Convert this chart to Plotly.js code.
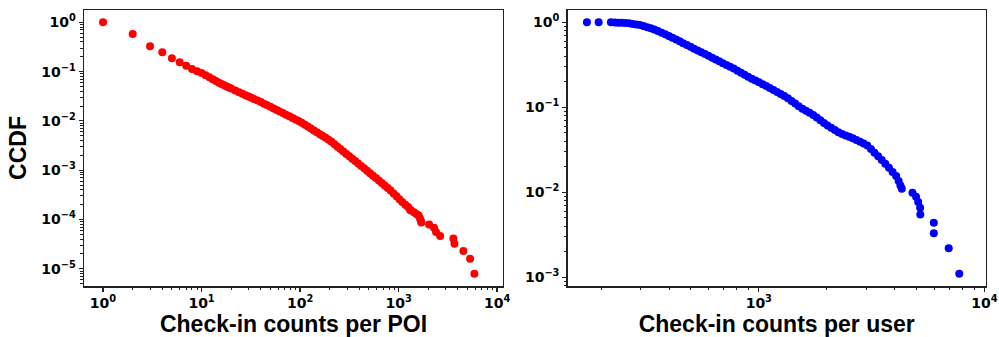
<!DOCTYPE html>
<html>
<head>
<meta charset="utf-8">
<script src="https://cdn.plot.ly/plotly-3.0.1.min.js"></script>
<style>
  html, body { margin: 0; padding: 0; background: #ffffff; }
  #chart { width: 999px; height: 337px; }
</style>
</head>
<body>
<div id="chart"></div>
<script>
// ---- Data: check-in counts per POI (CCDF) ----
const poiCounts = [1, 2, 3, 4, 5, 6, 7, 8, 9, 10, 11, 12, 13, 14, 15, 16, 17, 18, 19, 20,
  22, 24, 26, 28, 30, 32, 34, 37, 40, 43, 46, 50, 54, 58, 62, 67, 72, 78, 84, 90, 97,
  104, 112, 120, 129, 138, 148, 159, 170, 182, 195, 209, 224, 240, 257, 275, 295, 316,
  339, 363, 389, 417, 447, 479, 513, 550, 589, 631, 676, 724, 776, 831, 890, 953, 1020,
  1090, 1170, 1250, 1310, 1340, 1430, 1530, 1600, 1650, 1680, 1700,
  2040, 2290, 2400, 2640, 3600, 3690, 4550, 5320, 5880];
const poiCCDF = [1.0, 0.58, 0.326, 0.246, 0.186, 0.155, 0.132, 0.113, 0.102, 0.0933, 0.084,
  0.0764, 0.07, 0.0645, 0.0597, 0.056, 0.0529, 0.0501, 0.0476, 0.0454,
  0.0415, 0.0382, 0.0355, 0.0332, 0.0312, 0.0295, 0.0279, 0.0259, 0.0241, 0.0224, 0.021,
  0.0193, 0.0178, 0.0166, 0.0155, 0.0144, 0.0134, 0.0124, 0.0115, 0.0107, 0.00994,
  0.00918, 0.00836, 0.00766, 0.00699, 0.00642, 0.00588, 0.00537, 0.00494, 0.00453, 0.00415,
  0.00376, 0.00336, 0.003, 0.00269, 0.0024, 0.00214, 0.00192, 0.00171, 0.00153, 0.00137,
  0.00122, 0.00109, 0.000975, 0.000871, 0.000775, 0.000691, 0.000616, 0.000549, 0.00049,
  0.000436, 0.000388, 0.000338, 0.000295, 0.000257, 0.000225, 0.000198, 0.000178, 0.000156,
  0.000152, 0.00014, 0.000128, 0.00012, 0.000105, 0.000095, 0.000087,
  0.000079, 0.000068, 0.000056, 0.000046, 0.000041, 0.000032, 0.000023, 0.000016, 0.0000079];

// ---- Data: check-in counts per user (CCDF) ----
const userCounts = [173, 195, 221, 230, 238, 247, 256, 266, 276, 286, 297, 308, 320, 332, 344,
  357, 371, 385, 399, 414, 430, 446, 462, 480, 498, 516, 536, 556, 577, 598, 621, 644, 668,
  693, 719, 746, 774, 804, 834, 865, 897, 931, 966, 1002, 1040, 1079, 1119, 1161, 1205, 1250,
  1297, 1346, 1396, 1449, 1503, 1560, 1618, 1679, 1742, 1807, 1875, 1945, 2018, 2094, 2173,
  2254, 2339, 2427, 2518, 2612, 2710, 2812, 2917, 3027, 3141, 3258, 3381, 3508, 3639, 3776,
  3917, 4064, 4169, 4246, 4305,
  4800, 4980, 5090, 5190, 5200, 5970, 5970, 6950, 7740];
const userCCDF = [1.0, 0.999, 0.999, 0.995, 0.991, 0.987, 0.983, 0.972, 0.958, 0.944, 0.93,
  0.904, 0.878, 0.852, 0.825, 0.789, 0.756, 0.723, 0.69, 0.658, 0.627, 0.597, 0.568, 0.541,
  0.515, 0.49, 0.466, 0.444, 0.423, 0.403, 0.384, 0.365, 0.348, 0.331, 0.315, 0.3, 0.286,
  0.27, 0.256, 0.242, 0.229, 0.2175, 0.207, 0.197, 0.187, 0.178, 0.1686, 0.16, 0.1516,
  0.1437, 0.136, 0.128, 0.119, 0.1107, 0.1028, 0.0965, 0.0913, 0.0863, 0.0815, 0.0759,
  0.0705, 0.0655, 0.061, 0.0574, 0.054, 0.0508, 0.0484, 0.0467, 0.045, 0.0434, 0.0413,
  0.0393, 0.0375, 0.0355, 0.0323, 0.0293, 0.0265, 0.024, 0.0217, 0.0195, 0.0174, 0.0156,
  0.0136, 0.012, 0.011,
  0.0099, 0.0089, 0.0077, 0.0066, 0.0055, 0.0044, 0.0033, 0.0022, 0.0011];

// ---- Tick labels ----
const poiXTickVals = [1, 10, 100, 1000, 10000];
const poiXTickText = ['10<sup>0</sup>', '10<sup>1</sup>', '10<sup>2</sup>', '10<sup>3</sup>', '10<sup>4</sup>'];
const poiYTickVals = [1, 0.1, 0.01, 0.001, 0.0001, 0.00001];
const poiYTickText = ['10<sup>0</sup>', '10<sup>−1</sup>', '10<sup>−2</sup>', '10<sup>−3</sup>', '10<sup>−4</sup>', '10<sup>−5</sup>'];
const userXTickVals = [1000, 10000];
const userXTickText = ['10<sup>3</sup>', '10<sup>4</sup>'];
const userYTickVals = [1, 0.1, 0.01, 0.001];
const userYTickText = ['10<sup>0</sup>', '10<sup>−1</sup>', '10<sup>−2</sup>', '10<sup>−3</sup>'];

function minorVals(kFrom, kTo) {
  const v = [];
  for (let k = kFrom; k <= kTo; k++) {
    for (let m = 2; m <= 9; m++) v.push(m * Math.pow(10, k));
  }
  return v;
}

const tickFont = { family: 'DejaVu Sans', size: 14, color: '#000', weight: 'bold' };
const titleFont = { family: 'Liberation Sans, Arial, sans-serif', size: 23, color: '#000', weight: 'bold' };
const lineCol = '#222';

function axisBase(extra) {
  return Object.assign({
    type: 'log',
    showgrid: false,
    zeroline: false,
    showline: true,
    mirror: true,
    linecolor: lineCol,
    linewidth: 1.5,
    ticks: 'outside',
    ticklen: 4,
    tickwidth: 1.2,
    tickcolor: lineCol,
    tickmode: 'array',
    tickfont: tickFont,
    automargin: false
  }, extra);
}

const traces = [
  {
    x: poiCounts, y: poiCCDF, type: 'scatter', mode: 'markers',
    marker: { color: '#ff0000', size: 8 },
    xaxis: 'x', yaxis: 'y', hoverinfo: 'skip'
  },
  {
    x: userCounts, y: userCCDF, type: 'scatter', mode: 'markers',
    marker: { color: '#0000ff', size: 8 },
    xaxis: 'x2', yaxis: 'y2', hoverinfo: 'skip'
  }
];

const layout = {
  width: 999, height: 337,
  margin: { l: 0, r: 0, t: 10, b: 51 },
  paper_bgcolor: '#ffffff',
  plot_bgcolor: '#ffffff',
  showlegend: false,
  xaxis: axisBase({
    domain: [0.0841, 0.5035], anchor: 'y',
    range: [-0.193, 4.06],
    tickvals: poiXTickVals, ticktext: poiXTickText,
    minor: { tickmode: 'array', tickvals: minorVals(0, 3), ticks: 'outside', ticklen: 2.5, tickwidth: 1, tickcolor: lineCol, showgrid: false },
    title: { text: 'Check-in counts per POI', font: titleFont, standoff: 1 }
  }),
  yaxis: axisBase({
    domain: [0, 1], anchor: 'x',
    range: [-5.35, 0.25],
    tickvals: poiYTickVals, ticktext: poiYTickText,
    minor: { tickmode: 'array', tickvals: minorVals(-6, 0), ticks: 'outside', ticklen: 2.5, tickwidth: 1, tickcolor: lineCol, showgrid: false },
    title: { text: 'CCDF', font: titleFont, standoff: 8 }
  }),
  xaxis2: axisBase({
    domain: [0.5683, 0.9867], anchor: 'y2',
    range: [2.153, 4.006],
    tickvals: userXTickVals, ticktext: userXTickText,
    minor: { tickmode: 'array', tickvals: minorVals(2, 3), ticks: 'outside', ticklen: 2.5, tickwidth: 1, tickcolor: lineCol, showgrid: false },
    title: { text: 'Check-in counts per user', font: titleFont, standoff: 1 }
  }),
  yaxis2: axisBase({
    domain: [0, 1], anchor: 'x2',
    range: [-3.102, 0.145],
    tickvals: userYTickVals, ticktext: userYTickText,
    minor: { tickmode: 'array', tickvals: minorVals(-4, 0), ticks: 'outside', ticklen: 2.5, tickwidth: 1, tickcolor: lineCol, showgrid: false }
  })
};

Plotly.newPlot('chart', traces, layout, { displayModeBar: false, staticPlot: true });
</script>
</body>
</html>
